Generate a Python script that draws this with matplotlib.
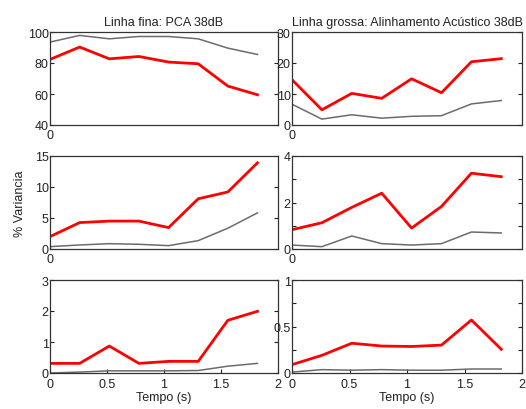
import matplotlib
matplotlib.use("Agg")
import matplotlib.pyplot as plt

plt.rcParams['font.family'] = ['Liberation Sans', 'DejaVu Sans']
plt.rcParams['font.size'] = 9

tempo = [0, 0.26, 0.52, 0.78, 1.04, 1.30, 1.56, 1.82]

# thin line: PCA, thick line: acoustic alignment (38 dB)
pca_1 = [93.5, 97.8, 95.6, 97.1, 97.1, 95.6, 89.6, 85.5]
ali_1 = [82.3, 90.3, 82.7, 84.2, 80.6, 79.5, 65.1, 59.5]
pca_2 = [6.7, 1.9, 3.3, 2.2, 2.8, 3.0, 6.8, 7.9]
ali_2 = [14.6, 4.9, 10.2, 8.6, 14.9, 10.4, 20.4, 21.4]
pca_3 = [0.38, 0.65, 0.86, 0.76, 0.54, 1.35, 3.35, 5.83]
ali_3 = [2.0, 4.26, 4.5, 4.5, 3.45, 8.1, 9.2, 13.9]
pca_4 = [0.17, 0.10, 0.56, 0.23, 0.17, 0.23, 0.73, 0.69]
ali_4 = [0.83, 1.13, 1.79, 2.4, 0.9, 1.83, 3.26, 3.11]
pca_5 = [0.0, 0.03, 0.07, 0.07, 0.07, 0.08, 0.22, 0.31]
ali_5 = [0.31, 0.31, 0.87, 0.31, 0.375, 0.375, 1.70, 1.99]
pca_6 = [0.01, 0.036, 0.03, 0.036, 0.03, 0.03, 0.043, 0.043]
ali_6 = [0.09, 0.19, 0.32, 0.29, 0.285, 0.30, 0.57, 0.255]

panels = [
    (pca_1, ali_1, (40, 100), [40, 60, 80, 100], ['40', '60', '80', '100']),
    (pca_2, ali_2, (0, 30), [0, 10, 20, 30], ['0', '10', '20', '30']),
    (pca_3, ali_3, (0, 15), [0, 5, 10, 15], ['0', '5', '10', '15']),
    (pca_4, ali_4, (0, 4), [0, 1, 2, 3, 4], ['0', '', '2', '', '4']),
    (pca_5, ali_5, (0, 3), [0, 1, 2, 3], ['0', '1', '2', '3']),
    (pca_6, ali_6, (0, 1), [0, 0.25, 0.5, 0.75, 1], ['0', '', '0.5', '', '1']),
]

W, H = 526, 410
lefts = [50, 292]
widths = [228, 230]
tops = [33, 157, 281]
ax_h = 93

fig = plt.figure(figsize=(W / 100, H / 100), dpi=100)
axes = []
for i, (pca, ali, ylim, yt, ytl) in enumerate(panels):
    row, col = divmod(i, 2)
    ax = fig.add_axes([lefts[col] / W, 1 - (tops[row] + ax_h) / H,
                       widths[col] / W, ax_h / H])
    ax.plot(tempo, pca, color='#6b6b6b', lw=1.1)
    ax.plot(tempo, ali, color='#ff0000', lw=2)
    ax.set_xlim(0, 2)
    ax.set_ylim(*ylim)
    ax.set_yticks(yt)
    ax.set_yticklabels(ytl)
    if row < 2:
        ax.set_xticks([0])
        ax.set_xticklabels(['0'])
        ax.tick_params(axis='x', length=0, pad=3)
    else:
        ax.set_xticks([0, 0.5, 1, 1.5, 2])
        ax.set_xticklabels(['0', '0.5', '1', '1.5', '2'])
        ax.set_xlabel('Tempo (s)', labelpad=1, color='#222222')
    ax.tick_params(direction='in', length=3, colors='#222222',
                   right=True, top=False, width=0.8)
    ax.tick_params(axis='y', pad=1)
    for s in ax.spines.values():
        s.set_color('#333333')
        s.set_linewidth(0.9)
    axes.append(ax)

axes[0].set_title('Linha fina: PCA 38dB', fontsize=9, pad=5, color='#222222')
axes[1].set_title('Linha grossa: Alinhamento Acústico 38dB', fontsize=9,
                  pad=5, color='#222222')
axes[2].set_ylabel('% Variancia', labelpad=6, color='#222222')

fig.savefig('out.png', dpi=100)
